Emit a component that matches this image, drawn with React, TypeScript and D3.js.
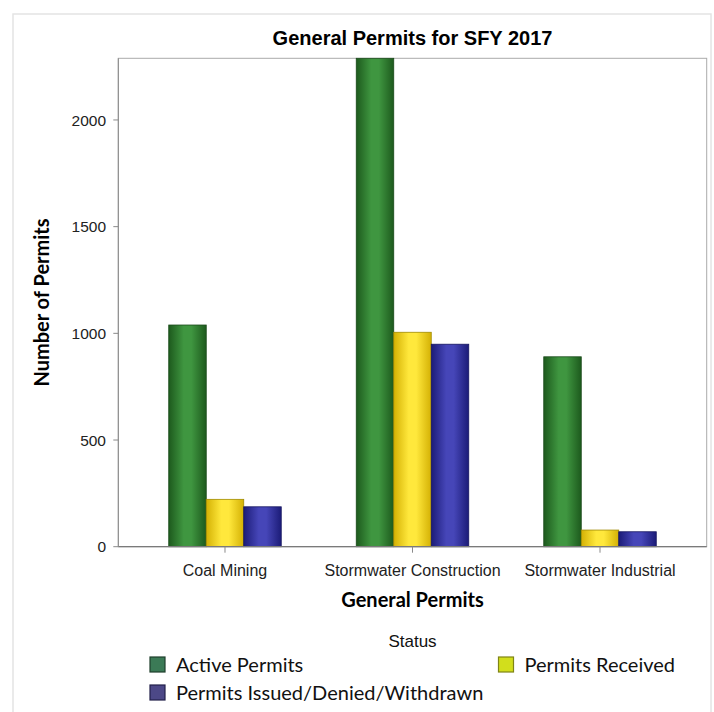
import React from "react";
import * as d3 from "d3";

// Permit counts by general permit type, state fiscal year 2017
const categories = ["Coal Mining", "Stormwater Construction", "Stormwater Industrial"];
const seriesNames = ["Active Permits", "Permits Received", "Permits Issued/Denied/Withdrawn"];
const activePermits = [1039, 2289, 890];
const permitsReceived = [222, 1005, 78];
const permitsIssued = [187, 949, 70];
const yTicks = [0, 500, 1000, 1500, 2000];
const yMax = 2289;

const W = 714;
const H = 712;
const plot = { left: 118.3, right: 706.7, top: 58.3, bottom: 546.7 };

const barStyles = [
  { id: "gGreen", edge: "#1d5a1d", mid: "#3f9640", stroke: "#1a4a1a" },
  { id: "gYellow", edge: "#d4b104", mid: "#ffe83c", stroke: "#a08a00" },
  { id: "gBlue", edge: "#1c1c78", mid: "#4646b8", stroke: "#161660" },
];
const legendSwatch = [
  { fill: "#3b7a56", stroke: "#1f3f2c" },
  { fill: "#d2de1c", stroke: "#7f8415" },
  { fill: "#4c4887", stroke: "#22204a" },
];

const seriesValues = [activePermits, permitsReceived, permitsIssued];

export default function App() {
  const x = d3
    .scaleBand<string>()
    .domain(categories)
    .range([plot.left, plot.right])
    .paddingInner(0.4)
    .paddingOuter(0.269);
  const xs = d3
    .scaleBand<number>()
    .domain(d3.range(seriesNames.length))
    .range([0, x.bandwidth()])
    .padding(0);
  const y = d3.scaleLinear().domain([0, yMax]).range([plot.bottom, plot.top]);

  const bars = categories.flatMap((c, ci) =>
    seriesValues.map((vals, si) => ({ c, ci, si, v: vals[ci] }))
  );

  const legendItems = [
    { si: 0, x: 150, y: 664.5 },
    { si: 1, x: 498.5, y: 664.5 },
    { si: 2, x: 150, y: 692.5 },
  ];

  const midX = (plot.left + plot.right) / 2;

  return (
    <svg
      width={W}
      height={H}
      style={{ position: "absolute", left: 0, top: 0, background: "#fff" }}
    >
      <defs>
        {barStyles.map((b) => (
          <linearGradient key={b.id} id={b.id} x1="0" x2="1" y1="0" y2="0">
            <stop offset="0" stopColor={b.edge} />
            <stop offset="0.4" stopColor={b.mid} />
            <stop offset="0.6" stopColor={b.mid} />
            <stop offset="1" stopColor={b.edge} />
          </linearGradient>
        ))}
      </defs>

      {/* outer graph border */}
      <rect x={13} y={14} width={698} height={720} fill="none" stroke="#e4e4e4" strokeWidth={1.5} />

      {/* title */}
      <text
        x={midX}
        y={45}
        textAnchor="middle"
        fontFamily="'Liberation Sans', Arial, sans-serif"
        fontWeight="bold"
        fontSize={20}
        fill="#000"
      >
        General Permits for SFY 2017
      </text>

      {/* plot frame */}
      <rect
        x={plot.left}
        y={plot.top}
        width={plot.right - plot.left}
        height={plot.bottom - plot.top}
        fill="#fff"
        stroke="#ababab"
        strokeWidth={1}
      />

      {/* bars */}
      {bars.map((b) => {
        const st = barStyles[b.si];
        const bx = (x(b.c) ?? 0) + (xs(b.si) ?? 0);
        return (
          <rect
            key={`${b.ci}-${b.si}`}
            x={bx}
            y={y(b.v)}
            width={xs.bandwidth()}
            height={y(0) - y(b.v)}
            fill={`url(#${st.id})`}
            stroke={st.stroke}
            strokeWidth={0.8}
          />
        );
      })}

      {/* axis lines */}
      <line x1={plot.left} x2={plot.right} y1={plot.bottom} y2={plot.bottom} stroke="#7a7a7a" strokeWidth={1.2} />
      <line x1={plot.left} x2={plot.left} y1={plot.top} y2={plot.bottom} stroke="#8a8a8a" strokeWidth={1} />

      {/* y ticks */}
      {yTicks.map((t) => (
        <g key={t}>
          <line x1={plot.left - 5} x2={plot.left} y1={y(t)} y2={y(t)} stroke="#8a8a8a" />
          <text
            x={106}
            y={y(t)}
            dy="0.36em"
            textAnchor="end"
            fontFamily="'Liberation Sans', Arial, sans-serif"
            fontSize={15.5}
            fill="#222"
          >
            {t}
          </text>
        </g>
      ))}

      {/* x ticks */}
      {categories.map((c) => {
        const cx = (x(c) ?? 0) + x.bandwidth() / 2;
        return (
          <g key={c}>
            <line x1={cx} x2={cx} y1={plot.bottom} y2={plot.bottom + 6} stroke="#8a8a8a" />
            <text
              x={cx}
              y={575.5}
              textAnchor="middle"
              fontFamily="'Liberation Sans', Arial, sans-serif"
              fontSize={16}
              fill="#222"
            >
              {c}
            </text>
          </g>
        );
      })}

      {/* axis titles */}
      <text
        x={midX}
        y={607}
        textAnchor="middle"
        fontFamily="Lato, 'Open Sans', sans-serif"
        fontWeight="bold"
        fontSize={20}
        fill="#000"
      >
        General Permits
      </text>
      <text
        transform={`translate(49, ${(plot.top + plot.bottom) / 2}) rotate(-90)`}
        textAnchor="middle"
        fontFamily="Lato, 'Open Sans', sans-serif"
        fontWeight="bold"
        fontSize={20}
        fill="#000"
      >
        Number of Permits
      </text>

      {/* legend */}
      <text
        x={midX}
        y={647}
        textAnchor="middle"
        fontFamily="'Liberation Sans', Arial, sans-serif"
        fontSize={17}
        fill="#111"
      >
        Status
      </text>
      {legendItems.map((it) => (
        <g key={it.si}>
          <rect
            x={it.x}
            y={it.y - 7.5}
            width={15}
            height={15}
            fill={legendSwatch[it.si].fill}
            stroke={legendSwatch[it.si].stroke}
            strokeWidth={1.2}
          />
          <text
            x={it.x + 26}
            y={it.y}
            dy="0.36em"
            fontFamily="Lato, 'Open Sans', sans-serif"
            fontSize={20}
            fill="#111"
          >
            {seriesNames[it.si]}
          </text>
        </g>
      ))}
    </svg>
  );
}
